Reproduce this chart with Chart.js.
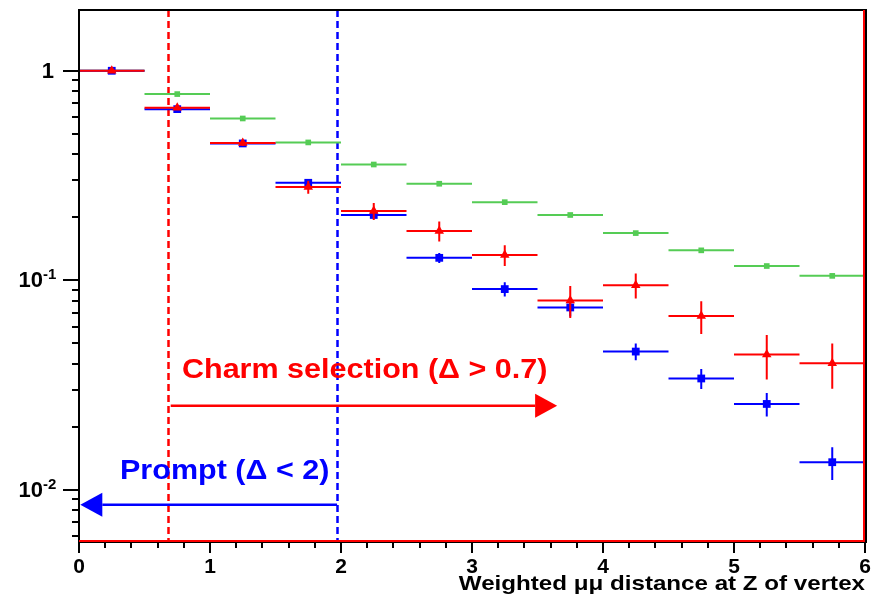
<!DOCTYPE html>
<html>
<head>
<meta charset="utf-8">
<script src="https://cdn.jsdelivr.net/npm/chart.js@4/dist/chart.umd.min.js"></script>
<style>
    html, body { margin: 0; padding: 0; background: #ffffff; }
    #wrap { width: 875px; height: 604px; }
</style>
</head>
<body>
<div id="wrap"><canvas id="dist-chart" width="875" height="604"></canvas></div>
<script>
// bin centres (bin width 0.5)
const binCenters = [0.25, 0.75, 1.25, 1.75, 2.25, 2.75, 3.25, 3.75, 4.25, 4.75, 5.25, 5.75];
const binHalfWidth = 0.25;

const greenValues = [1.0, 0.774, 0.592, 0.455, 0.357, 0.289, 0.236, 0.205, 0.168, 0.139, 0.117, 0.105];
const greenErrors = [0.002, 0.002, 0.002, 0.002, 0.002, 0.002, 0.002, 0.002, 0.002, 0.002, 0.002, 0.002];

const redValues = [1.0, 0.666, 0.452, 0.279, 0.214, 0.172, 0.132, 0.080, 0.0948, 0.0675, 0.0442, 0.0402];
const redErrors = [0.005, 0.01, 0.015, 0.02, 0.02, 0.019, 0.015, 0.014, 0.013, 0.012, 0.0106, 0.0098];

const blueValues = [1.0, 0.656, 0.450, 0.292, 0.205, 0.128, 0.0908, 0.0742, 0.0457, 0.034, 0.0257, 0.01355];
const blueErrors = [0.004, 0.006, 0.006, 0.006, 0.006, 0.007, 0.007, 0.007, 0.0042, 0.0037, 0.0033, 0.0024];

const xTickValues = [0, 1, 2, 3, 4, 5, 6];
const xTickLabels = ['0', '1', '2', '3', '4', '5', '6'];
const yTickValues = [0.01, 0.1, 1];
const yTickLabels = [['10', '-2'], ['10', '-1'], ['1', '']];

// cut positions and annotation texts
const charmCut = 0.68;
const promptCut = 1.97;
const charmText = 'Charm selection (\u0394 > 0.7)';
const promptText = 'Prompt (\u0394 < 2)';
const xTitle = 'Weighted \u03bc\u03bc distance at Z of vertex';

const colors = {
    green: '#55cc55',
    red: '#ff0000',
    blue: '#0000ff'
};

const FONT = "'Liberation Sans', Arial, sans-serif";

const makeSet = (label, values, errors, color, style, radius) => ({
    label: label,
    data: binCenters.map((x, i) => ({x: x, y: values[i], err: errors[i]})),
    pointStyle: style,
    pointRadius: radius,
    pointBackgroundColor: color,
    pointBorderColor: color,
    pointBorderWidth: 0,
    showLine: false,
    barColor: color
});

// text drawn a bit wider than the font, like the ROOT Helvetica output
const fillWide = (ctx, text, x, y, stretch, align) => {
    const w = ctx.measureText(text).width * stretch;
    const left = align === 'right' ? x - w : x;
    ctx.save();
    ctx.textAlign = 'left';
    ctx.translate(left, y);
    ctx.scale(stretch, 1);
    ctx.fillText(text, 0, 0);
    ctx.restore();
};

// horizontal bin bars + vertical error bars, drawn under each dataset's markers
const errorBarPlugin = {
    id: 'errorBarPlugin',
    beforeDatasetDraw(chart, args) {
        const ds = chart.data.datasets[args.index];
        const xs = chart.scales.x;
        const ys = chart.scales.y;
        const ctx = chart.ctx;
        ctx.save();
        ctx.strokeStyle = ds.barColor;
        ctx.lineWidth = 2;
        ds.data.forEach(p => {
            const py = ys.getPixelForValue(p.y);
            const px = xs.getPixelForValue(p.x);
            ctx.beginPath();
            ctx.moveTo(xs.getPixelForValue(p.x - binHalfWidth), py);
            ctx.lineTo(xs.getPixelForValue(p.x + binHalfWidth), py);
            ctx.moveTo(px, ys.getPixelForValue(p.y + p.err));
            ctx.lineTo(px, ys.getPixelForValue(Math.max(p.y - p.err, 1e-6)));
            ctx.stroke();
        });
        ctx.restore();
    }
};

const arrow = (ctx, x0, x1, y, color) => {
    const dir = Math.sign(x1 - x0);
    const headLen = 22;
    const headHalf = 12;
    ctx.save();
    ctx.strokeStyle = color;
    ctx.fillStyle = color;
    ctx.lineWidth = 2.5;
    ctx.beginPath();
    ctx.moveTo(x0, y);
    ctx.lineTo(x1 - dir * headLen, y);
    ctx.stroke();
    ctx.beginPath();
    ctx.moveTo(x1, y);
    ctx.lineTo(x1 - dir * headLen, y - headHalf);
    ctx.lineTo(x1 - dir * headLen, y + headHalf);
    ctx.closePath();
    ctx.fill();
    ctx.restore();
};

// frame, ROOT-style axes, cut lines and annotations
const framePlugin = {
    id: 'framePlugin',
    beforeDatasetsDraw(chart) {
        const ctx = chart.ctx;
        const xs = chart.scales.x;
        const ys = chart.scales.y;
        const a = chart.chartArea;

        ctx.save();
        ctx.lineWidth = 2.5;
        ctx.setLineDash([7, 4]);
        [[charmCut, colors.red], [promptCut, colors.blue]].forEach(([v, c]) => {
            const px = Math.round(xs.getPixelForValue(v)) + 0.5;
            ctx.strokeStyle = c;
            ctx.beginPath();
            ctx.moveTo(px, a.top);
            ctx.lineTo(px, a.bottom);
            ctx.stroke();
        });
        ctx.restore();

        arrow(ctx, xs.getPixelForValue(0.70), xs.getPixelForValue(3.65), ys.getPixelForValue(0.0252), colors.red);
        arrow(ctx, xs.getPixelForValue(promptCut), xs.getPixelForValue(0.01), ys.getPixelForValue(0.0085), colors.blue);

        ctx.save();
        ctx.font = 'bold 28px ' + FONT;
        ctx.textBaseline = 'alphabetic';
        ctx.fillStyle = colors.red;
        fillWide(ctx, charmText, xs.getPixelForValue(0.786), ys.getPixelForValue(0.034), 1.09, 'left');
        ctx.fillStyle = colors.blue;
        fillWide(ctx, promptText, xs.getPixelForValue(0.313), ys.getPixelForValue(0.0113), 1.09, 'left');
        ctx.restore();
    },
    afterDraw(chart) {
        const ctx = chart.ctx;
        const xs = chart.scales.x;
        const ys = chart.scales.y;
        const a = chart.chartArea;

        ctx.save();
        ctx.strokeStyle = '#000000';
        ctx.lineWidth = 2;
        ctx.strokeRect(a.left, a.top, a.right - a.left + 1, a.bottom - a.top + 1);
        ctx.strokeStyle = colors.red;
        ctx.beginPath();
        ctx.moveTo(a.left, a.bottom);
        ctx.lineTo(a.right - 1, a.bottom);
        ctx.lineTo(a.right - 1, a.top);
        ctx.stroke();

        // x ticks: major every 1, minor every 0.2
        ctx.strokeStyle = '#000000';
        ctx.beginPath();
        for (let i = 0; i <= 30; i++) {
            const px = Math.round(xs.getPixelForValue(i * 0.2));
            const len = i % 5 === 0 ? 11 : 6;
            ctx.moveTo(px, a.bottom + 1);
            ctx.lineTo(px, a.bottom + 1 + len);
        }
        // y ticks: major each decade, minor 2..9
        for (let e = -3; e <= 0; e++) {
            for (let m = 1; m <= 9; m++) {
                const v = m * Math.pow(10, e);
                if (v < ys.min || v > ys.max) continue;
                const py = Math.round(ys.getPixelForValue(v));
                const len = m === 1 ? 16 : 7;
                ctx.moveTo(a.left, py);
                ctx.lineTo(a.left - len, py);
            }
        }
        ctx.stroke();

        ctx.fillStyle = '#000000';
        ctx.font = 'bold 21px ' + FONT;
        ctx.textAlign = 'center';
        ctx.textBaseline = 'alphabetic';
        xTickValues.forEach((v, i) => {
            ctx.fillText(xTickLabels[i], xs.getPixelForValue(v), 573);
        });

        yTickValues.forEach((v, i) => {
            const py = ys.getPixelForValue(v);
            const [base, exp] = yTickLabels[i];
            ctx.font = 'bold 22px ' + FONT;
            ctx.textAlign = 'right';
            ctx.textBaseline = 'middle';
            const right = exp ? 43 : 54;
            ctx.fillText(base, right, py + 1);
            if (exp) {
                ctx.font = 'bold 15px ' + FONT;
                ctx.textAlign = 'left';
                ctx.textBaseline = 'alphabetic';
                ctx.fillText(exp, 43, py - 1);
            }
        });

        ctx.font = 'bold 21px ' + FONT;
        ctx.textBaseline = 'alphabetic';
        fillWide(ctx, xTitle, a.right, 590, 1.15, 'right');
        ctx.restore();
    }
};

new Chart(document.getElementById('dist-chart'), {
    type: 'scatter',
    data: {
        datasets: [
            makeSet('red', redValues, redErrors, colors.red, 'triangle', 5.5),
            makeSet('blue', blueValues, blueErrors, colors.blue, 'rect', 5.5),
            makeSet('green', greenValues, greenErrors, colors.green, 'rect', 4)
        ]
    },
    options: {
        responsive: false,
        animation: false,
        layout: {
            padding: {left: 79, right: 10, top: 10, bottom: 63}
        },
        scales: {
            x: {type: 'linear', min: 0, max: 6, display: false},
            y: {type: 'logarithmic', min: 0.0057, max: 1.95, display: false}
        },
        plugins: {
            legend: {display: false},
            tooltip: {enabled: false}
        }
    },
    plugins: [errorBarPlugin, framePlugin]
});
</script>
</body>
</html>
